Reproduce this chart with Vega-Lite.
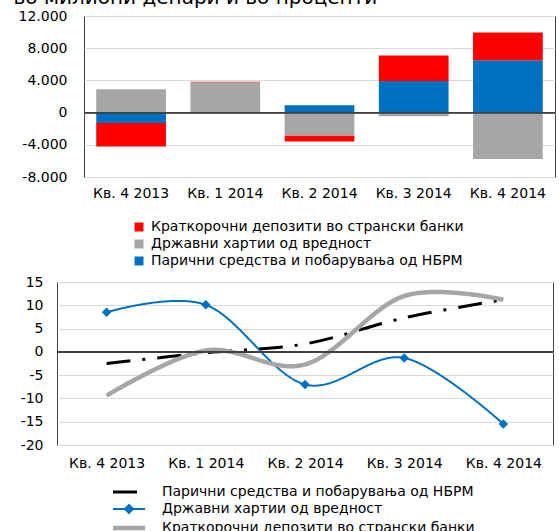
{
  "$schema": "https://vega.github.io/schema/vega-lite/v6.json",
  "padding": {"left": 13, "top": -13, "right": 4, "bottom": 0},
  "title": {"text": "во милиони денари и во проценти", "anchor": "start", "fontSize": 20, "fontWeight": "normal", "font": "DejaVu Sans", "color": "#000000", "offset": 1, "frame": "bounds", "dx": -4},
  "config": {
    "font": "DejaVu Sans",
    "view": {"stroke": "#404040", "strokeWidth": 1},
    "axis": {"labelFont": "DejaVu Sans", "labelFontSize": 14, "labelColor": "#000000", "ticks": false, "domain": false, "title": null, "gridColor": "#D9D9D9", "labelOverlap": false},
    "axisY": {"labelOverlap": false},
    "axisQuantitative": {"labelOverlap": false},
    "legend": {"labelFont": "DejaVu Sans", "labelFontSize": 14, "labelColor": "#000000", "title": null, "labelLimit": 0}
  },
  "datasets": {
    "bars": [
      {"q": "Кв. 4 2013", "s": "Парични средства и побарувања од НБРМ", "o": 1, "v": -1300},
      {"q": "Кв. 4 2013", "s": "Државни хартии од вредност", "o": 2, "v": 2900},
      {"q": "Кв. 4 2013", "s": "Краткорочни депозити во странски банки", "o": 3, "v": -2900},
      {"q": "Кв. 1 2014", "s": "Парични средства и побарувања од НБРМ", "o": 1, "v": -40},
      {"q": "Кв. 1 2014", "s": "Државни хартии од вредност", "o": 2, "v": 3760},
      {"q": "Кв. 1 2014", "s": "Краткорочни депозити во странски банки", "o": 3, "v": 70},
      {"q": "Кв. 2 2014", "s": "Парични средства и побарувања од НБРМ", "o": 1, "v": 920},
      {"q": "Кв. 2 2014", "s": "Државни хартии од вредност", "o": 2, "v": -2880},
      {"q": "Кв. 2 2014", "s": "Краткорочни депозити во странски банки", "o": 3, "v": -710},
      {"q": "Кв. 3 2014", "s": "Парични средства и побарувања од НБРМ", "o": 1, "v": 3920},
      {"q": "Кв. 3 2014", "s": "Државни хартии од вредност", "o": 2, "v": -460},
      {"q": "Кв. 3 2014", "s": "Краткорочни депозити во странски банки", "o": 3, "v": 3170},
      {"q": "Кв. 4 2014", "s": "Парични средства и побарувања од НБРМ", "o": 1, "v": 6500},
      {"q": "Кв. 4 2014", "s": "Државни хартии од вредност", "o": 2, "v": -5750},
      {"q": "Кв. 4 2014", "s": "Краткорочни депозити во странски банки", "o": 3, "v": 3460}
    ],
    "lines": [
      {"q": "Кв. 4 2013", "s": "Парични средства и побарувања од НБРМ", "v": -2.5},
      {"q": "Кв. 1 2014", "s": "Парични средства и побарувања од НБРМ", "v": -0.2},
      {"q": "Кв. 2 2014", "s": "Парични средства и побарувања од НБРМ", "v": 1.7},
      {"q": "Кв. 3 2014", "s": "Парични средства и побарувања од НБРМ", "v": 7.3},
      {"q": "Кв. 4 2014", "s": "Парични средства и побарувања од НБРМ", "v": 11.2},
      {"q": "Кв. 4 2013", "s": "Државни хартии од вредност", "v": 8.5},
      {"q": "Кв. 1 2014", "s": "Државни хартии од вредност", "v": 10.1},
      {"q": "Кв. 2 2014", "s": "Државни хартии од вредност", "v": -7.0},
      {"q": "Кв. 3 2014", "s": "Државни хартии од вредност", "v": -1.3},
      {"q": "Кв. 4 2014", "s": "Државни хартии од вредност", "v": -15.5},
      {"q": "Кв. 4 2013", "s": "Краткорочни депозити во странски банки", "v": -9.4},
      {"q": "Кв. 1 2014", "s": "Краткорочни депозити во странски банки", "v": 0.3},
      {"q": "Кв. 2 2014", "s": "Краткорочни депозити во странски банки", "v": -2.7},
      {"q": "Кв. 3 2014", "s": "Краткорочни депозити во странски банки", "v": 12.0},
      {"q": "Кв. 4 2014", "s": "Краткорочни депозити во странски банки", "v": 11.2}
    ]
  },
  "spacing": 266,
  "bounds": "flush",
  "resolve": {
    "scale": {"color": "independent", "strokeDash": "independent", "strokeWidth": "independent", "x": "independent", "y": "independent"},
    "legend": {"color": "independent"}
  },
  "vconcat": [
    {
      "bounds": "flush",
      "spacing": 0,
      "hconcat": [
        {
          "width": 27,
          "height": 161,
          "view": {"stroke": null},
          "data": {"values": [{"a": 1}]},
          "mark": {"type": "point", "opacity": 0},
          "encoding": {}
        },
        {
          "width": 471,
          "height": 161,
          "data": {"name": "bars"},
          "layer": [
            {
              "mark": {"type": "bar"},
              "encoding": {
                "x": {"field": "q", "type": "nominal", "sort": null,
                      "scale": {"paddingInner": 0.26, "paddingOuter": 0.13},
                      "axis": {"labelAngle": 0, "labelPadding": 9, "grid": false, "labelOverlap": false}},
                "y": {"field": "v", "type": "quantitative", "stack": "zero",
                      "scale": {"domain": [-8000, 12000], "nice": false},
                      "axis": {"values": [-8000, -4000, 0, 4000, 8000, 12000], "labelPadding": 17, "grid": true, "labelOverlap": false, "labelFlush": false, "tickCount": 6,
                               "labelExpr": "(datum.value < 0 ? '-' : '') + replace(format(abs(datum.value), ','), ',', '.')"}},
                "color": {"field": "s", "type": "nominal",
                          "scale": {"domain": ["Краткорочни депозити во странски банки", "Државни хартии од вредност", "Парични средства и побарувања од НБРМ"],
                                    "range": ["#FF0000", "#A6A6A6", "#0070C0"]},
                          "legend": {"orient": "none", "legendX": 75, "legendY": 204, "direction": "vertical",
                                     "symbolType": "square", "symbolSize": 81, "symbolStrokeWidth": 0, "labelOffset": 5, "rowPadding": 3}},
                "order": {"field": "o", "type": "quantitative"}
              }
            },
            {
              "mark": {"type": "rule", "color": "#404040", "strokeWidth": 1},
              "encoding": {"y": {"datum": 0, "type": "quantitative",
                      "axis": {"values": [-8000, -4000, 0, 4000, 8000, 12000], "labelPadding": 17, "grid": true, "labelOverlap": false, "labelFlush": false, "tickCount": 6,
                               "labelExpr": "(datum.value < 0 ? '-' : '') + replace(format(abs(datum.value), ','), ',', '.')"}}}
            }
          ]
        }
      ]
    },
    {
      "width": 496,
      "height": 163,
      "data": {"name": "lines"},
      "layer": [
        {
          "mark": {"type": "line", "interpolate": "cardinal"},
          "encoding": {
            "x": {"field": "q", "type": "nominal", "sort": null,
                  "scale": {"type": "point", "padding": 0.5},
                  "axis": {"labelAngle": 0, "labelPadding": 11, "grid": false, "labelOverlap": false}},
            "y": {"field": "v", "type": "quantitative",
                  "scale": {"domain": [-20, 15], "nice": false},
                  "axis": {"values": [-20, -15, -10, -5, 0, 5, 10, 15], "labelPadding": 14, "grid": true, "labelOverlap": false, "labelFlush": false, "tickCount": 8,
                           "labelExpr": "datum.value + ''"}},
            "color": {"field": "s", "type": "nominal",
                      "scale": {"domain": ["Парични средства и побарувања од НБРМ", "Државни хартии од вредност", "Краткорочни депозити во странски банки"],
                                "range": ["#000000", "#0070C0", "#A6A6A6"]},
                      "legend": {"orient": "none", "legendX": 65, "legendY": 203, "direction": "vertical",
                                 "symbolSize": 64, "labelOffset": 26, "rowPadding": 2,
                                 "encode": {"symbols": {"update": {
                                   "shape": {"signal": "datum.value === 'Државни хартии од вредност' ? 'M-4,0H4M0,-1L1,0L0,1L-1,0Z' : 'M-4,0H4'"},
                                   "fill": {"signal": "datum.value === 'Државни хартии од вредност' ? '#0070C0' : 'transparent'"},
                                   "strokeWidth": {"signal": "datum.value === 'Краткорочни депозити во странски банки' ? 4.5 : 3"}
                                 }}}}},
            "strokeDash": {"field": "s", "type": "nominal",
                           "scale": {"type": "ordinal", "domain": ["Парични средства и побарувања од НБРМ", "Државни хартии од вредност", "Краткорочни депозити во странски банки"],
                                     "range": [[24, 12, 3, 12], [1, 0], [1, 0]]},
                           "legend": null},
            "strokeWidth": {"field": "s", "type": "nominal",
                            "scale": {"type": "ordinal", "domain": ["Парични средства и побарувања од НБРМ", "Државни хартии од вредност", "Краткорочни депозити во странски банки"],
                                      "range": [3, 2, 4.5]},
                            "legend": null}
          }
        },
        {
          "mark": {"type": "rule", "color": "#404040", "strokeWidth": 1},
          "encoding": {"y": {"datum": 0, "type": "quantitative",
                  "axis": {"values": [-20, -15, -10, -5, 0, 5, 10, 15], "labelPadding": 14, "grid": true, "labelOverlap": false, "labelFlush": false, "tickCount": 8,
                           "labelExpr": "datum.value + ''"}}}
        },
        {
          "transform": [{"filter": "datum.s === 'Државни хартии од вредност'"}],
          "mark": {"type": "point", "shape": "diamond", "filled": true, "color": "#0070C0", "size": 90, "opacity": 1},
          "encoding": {
            "x": {"field": "q", "type": "nominal", "sort": null,
                  "axis": {"labelAngle": 0, "labelPadding": 11, "grid": false, "labelOverlap": false}},
            "y": {"field": "v", "type": "quantitative",
                  "axis": {"values": [-20, -15, -10, -5, 0, 5, 10, 15], "labelPadding": 14, "grid": true, "labelOverlap": false, "labelFlush": false, "tickCount": 8,
                           "labelExpr": "datum.value + ''"}}
          }
        }
      ]
    }
  ]
}
